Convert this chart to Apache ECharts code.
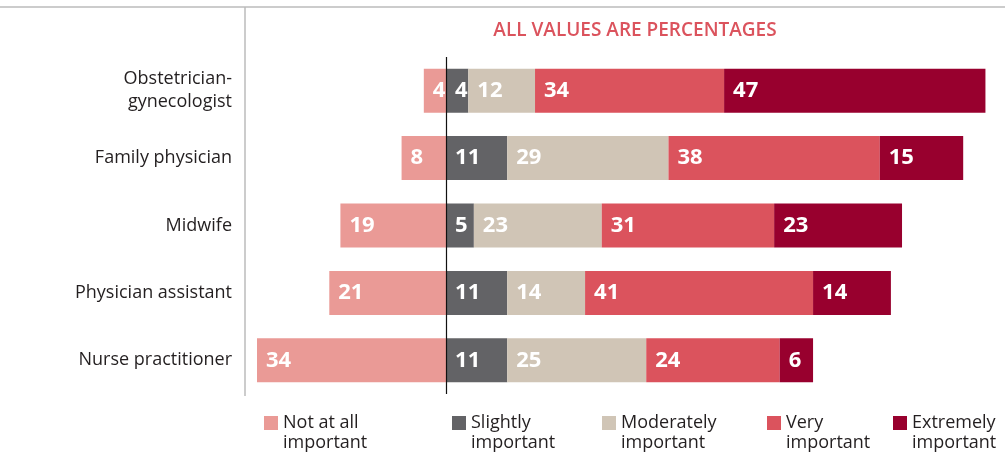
<!DOCTYPE html>
<html lang="en">
<head>
<meta charset="utf-8">
<title>Importance by provider</title>
<script src="https://cdn.jsdelivr.net/npm/echarts@6/dist/echarts.min.js"></script>
<style>
  html, body { margin: 0; padding: 0; background: #fff; }
  #chart { width: 1005px; height: 458px; }
</style>
</head>
<body>
<div id="chart"></div>
<script>
var providers = ['Obstetrician-\ngynecologist', 'Family physician', 'Midwife', 'Physician assistant', 'Nurse practitioner'];
var notAtAll   = [4, 8, 19, 21, 34];
var slightly   = [4, 11, 5, 11, 11];
var moderately = [12, 29, 23, 14, 25];
var very       = [34, 38, 31, 41, 24];
var extremely  = [47, 15, 23, 14, 6];
var legendNames = ['Not at all\nimportant', 'Slightly\nimportant', 'Moderately\nimportant', 'Very\nimportant', 'Extremely\nimportant'];
var colors = ['#ea9a96', '#636366', '#d0c5b6', '#db535d', '#98002e'];

var myChart = echarts.init(document.getElementById('chart'));

var labelStyle = {
    show: true,
    position: 'insideLeft',
    distance: 9,
    color: '#fff',
    fontFamily: 'Open Sans',
    fontWeight: 'bold',
    fontSize: 22,
    formatter: function (p) { return Math.abs(p.value); }
};

function makeSeries(i, values, sign) {
    return {
        name: legendNames[i],
        type: 'bar',
        stack: 'total',
        barWidth: 44,
        itemStyle: { color: colors[i] },
        label: labelStyle,
        emphasis: { disabled: true },
        data: values.map(function (v) { return v * sign; })
    };
}

var series = [
    makeSeries(0, notAtAll, -1),
    makeSeries(1, slightly, 1),
    makeSeries(2, moderately, 1),
    makeSeries(3, very, 1),
    makeSeries(4, extremely, 1)
];
// zero line
series[0].markLine = {
    silent: true,
    symbol: 'none',
    label: { show: false },
    lineStyle: { color: '#111', width: 1.2, type: 'solid' },
    data: [{ xAxis: 0 }]
};

// blank first line keeps the icon level with the first text line
var legendLeft = [259, 447, 597, 762, 888];
var legends = legendNames.map(function (n, i) {
    return {
        data: [n],
        left: legendLeft[i],
        top: 388,
        itemWidth: 14,
        itemHeight: 14,
        icon: 'rect',
        selectedMode: false,
        formatter: function (name) { return ' \n' + name; },
        textStyle: {
            fontFamily: 'Open Sans',
            fontSize: 18,
            color: '#231f20',
            lineHeight: 20
        }
    };
});

option = {
    animation: false,
    backgroundColor: '#fff',
    title: {
        text: 'ALL VALUES ARE PERCENTAGES',
        left: 630,
        textAlign: 'center',
        top: 16,
        textStyle: {
            color: '#db535d',
            fontFamily: 'Open Sans',
            fontWeight: 600,
            fontSize: 19
        }
    },
    legend: legends,
    grid: { left: 257, right: 14, top: 57, bottom: 64 },
    xAxis: {
        type: 'value',
        min: -34,
        max: 98,
        show: false
    },
    yAxis: {
        type: 'category',
        inverse: true,
        data: providers,
        axisLine: { show: false },
        axisTick: { show: false },
        axisLabel: {
            margin: 25,
            color: '#231f20',
            fontFamily: 'Open Sans',
            fontSize: 18,
            lineHeight: 23,
            align: 'right'
        }
    },
    graphic: [
        { type: 'line', shape: { x1: 0, y1: 7, x2: 1005, y2: 7 }, style: { stroke: '#bbb', lineWidth: 1.5 } },
        { type: 'line', shape: { x1: 245, y1: 7, x2: 245, y2: 396 }, style: { stroke: '#bbb', lineWidth: 1.5 } }
    ],
    series: series
};
myChart.setOption(option);
</script>
</body>
</html>
